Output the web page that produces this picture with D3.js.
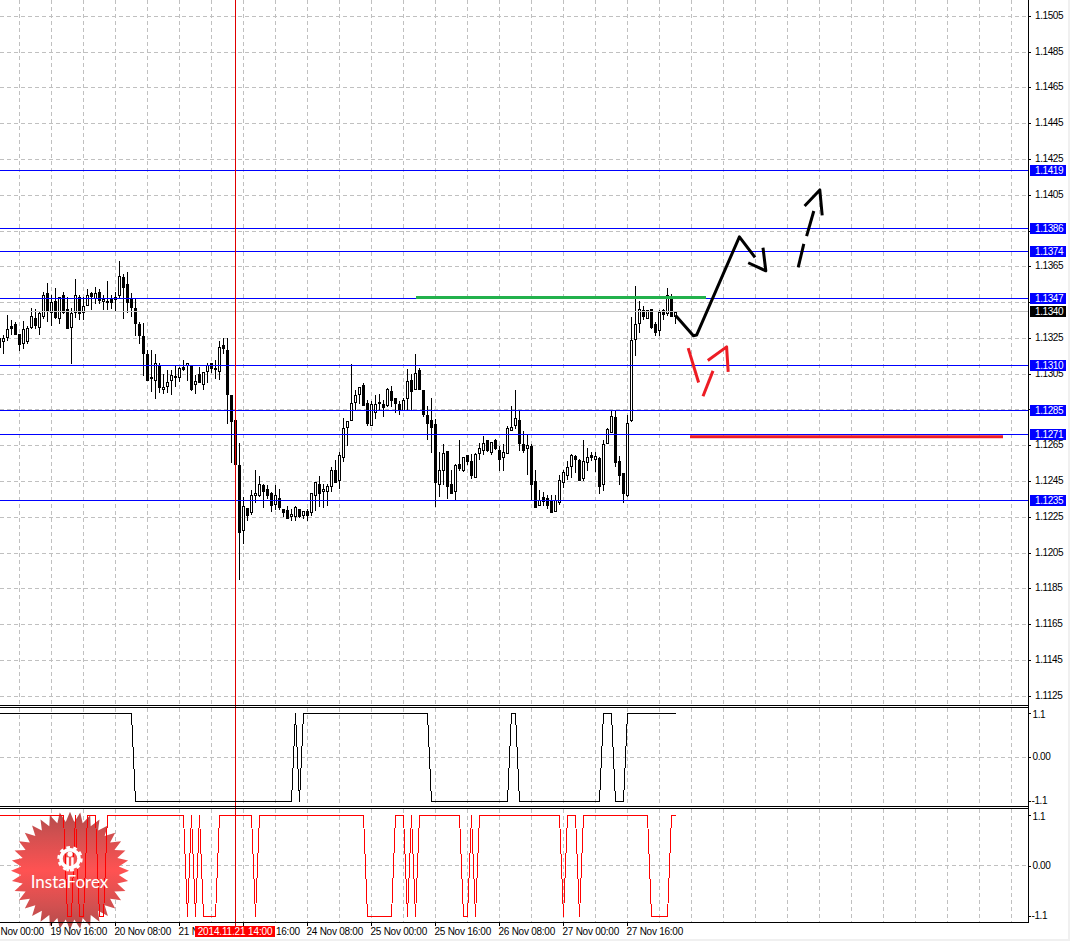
<!DOCTYPE html>
<html><head><meta charset="utf-8">
<script src="https://cdn.jsdelivr.net/npm/d3@7"></script>
<style>
html,body{margin:0;padding:0;background:#fff;overflow:hidden}
svg{display:block}
text{font-family:"Liberation Sans",Arial,sans-serif;font-size:10px;letter-spacing:-.4px;fill:#000}
</style></head><body>
<svg id="c" width="1070" height="941"></svg>
<script>
// H1 candles: first bar index is -1, each row has 10 bars
const firstBar = -1;
const candleOpen = [
1.13247,1.13234,1.13256,1.13316,1.13327,1.13271,1.13223,1.13230,1.13312,1.13364,
1.13312,1.13372,1.13499,1.13394,1.13454,1.13361,1.13487,1.13409,1.13312,1.13394,
1.13476,1.13396,1.13435,1.13499,1.13472,1.13506,1.13454,1.13452,1.13465,1.13476,
1.13487,1.13588,1.13551,1.13469,1.13415,1.13327,1.13260,1.13159,1.13027,1.13017,
1.13096,1.12967,1.12980,1.13017,1.13034,1.13029,1.13088,1.13096,1.13096,1.12995,
1.13047,1.12991,1.13066,1.13107,1.13079,1.13066,1.13209,1.13185,1.12929,1.12793,
1.12538,1.12174,1.12299,1.12277,1.12372,1.12370,1.12426,1.12407,1.12385,1.12323,
1.12357,1.12295,1.12286,1.12254,1.12254,1.12295,1.12263,1.12280,1.12277,1.12374,
1.12435,1.12394,1.12394,1.12422,1.12510,1.12457,1.12584,1.12752,1.12793,1.12892,
1.12937,1.12985,1.12888,1.12763,1.12838,1.12886,1.12879,1.12877,1.12955,1.12916,
1.12879,1.12845,1.12916,1.13017,1.12965,1.13069,1.12957,1.12817,1.12789,1.12767,
1.12435,1.12513,1.12616,1.12435,1.12394,1.12547,1.12510,1.12597,1.12560,1.12472,
1.12607,1.12623,1.12678,1.12610,1.12678,1.12625,1.12584,1.12607,1.12735,1.12763,
1.12793,1.12655,1.12635,1.12648,1.12448,1.12316,1.12359,1.12357,1.12342,1.12282,
1.12334,1.12444,1.12485,1.12534,1.12588,1.12566,1.12465,1.12556,1.12597,1.12571,
1.12577,1.12435,1.12663,1.12724,1.12806,1.12564,1.12497,1.12370,1.12789,1.13246,
1.13334,1.13408,1.13360,1.13414,1.13326,1.13293,1.13408,1.13390,1.13470,1.13371];
const candleClose = [
1.13200,1.13249,1.13297,1.13305,1.13271,1.13215,1.13297,1.13308,1.13375,1.13323,
1.13387,1.13487,1.13405,1.13450,1.13368,1.13476,1.13394,1.13308,1.13387,1.13487,
1.13387,1.13428,1.13487,1.13484,1.13499,1.13461,1.13469,1.13456,1.13450,1.13465,
1.13596,1.13536,1.13452,1.13424,1.13334,1.13267,1.13167,1.13017,1.13029,1.13107,
1.12976,1.12978,1.13006,1.13045,1.13036,1.13084,1.13077,1.13107,1.12965,1.13010,
1.13004,1.13058,1.13098,1.13081,1.13081,1.13200,1.13191,1.12939,1.12786,1.12547,
1.12165,1.12308,1.12263,1.12370,1.12385,1.12435,1.12394,1.12370,1.12314,1.12370,
1.12305,1.12277,1.12243,1.12267,1.12305,1.12254,1.12282,1.12263,1.12385,1.12446,
1.12383,1.12407,1.12420,1.12513,1.12444,1.12597,1.12748,1.12787,1.12888,1.12929,
1.12978,1.12877,1.12774,1.12879,1.12879,1.12890,1.12864,1.12967,1.12903,1.12888,
1.12851,1.12905,1.13008,1.12955,1.13056,1.12965,1.12825,1.12774,1.12752,1.12444,
1.12510,1.12609,1.12422,1.12383,1.12538,1.12523,1.12586,1.12562,1.12482,1.12599,
1.12636,1.12664,1.12622,1.12666,1.12637,1.12573,1.12614,1.12748,1.12752,1.12804,
1.12663,1.12622,1.12653,1.12431,1.12305,1.12346,1.12338,1.12319,1.12275,1.12342,
1.12457,1.12498,1.12526,1.12597,1.12573,1.12454,1.12564,1.12586,1.12582,1.12588,
1.12422,1.12655,1.12739,1.12816,1.12556,1.12484,1.12383,1.12776,1.13237,1.13326,
1.13414,1.13371,1.13408,1.13311,1.13282,1.13397,1.13382,1.13487,1.13373,1.13397];
const candleHigh = [
1.13252,1.13265,1.13377,1.13349,1.13340,1.13271,1.13346,1.13316,1.13415,1.13409,
1.13402,1.13508,1.13555,1.13489,1.13527,1.13476,1.13508,1.13476,1.13415,1.13577,
1.13489,1.13476,1.13521,1.13508,1.13532,1.13521,1.13489,1.13566,1.13489,1.13508,
1.13678,1.13607,1.13620,1.13499,1.13471,1.13340,1.13334,1.13182,1.13185,1.13159,
1.13111,1.13047,1.13073,1.13070,1.13098,1.13088,1.13126,1.13107,1.13098,1.13042,
1.13088,1.13058,1.13107,1.13111,1.13126,1.13234,1.13247,1.13247,1.12929,1.12793,
1.12663,1.12360,1.12299,1.12398,1.12510,1.12476,1.12435,1.12426,1.12388,1.12426,
1.12407,1.12295,1.12308,1.12295,1.12308,1.12295,1.12282,1.12295,1.12385,1.12446,
1.12476,1.12435,1.12435,1.12528,1.12566,1.12612,1.12804,1.12787,1.13106,1.12957,
1.12978,1.12998,1.12905,1.12896,1.12929,1.12939,1.12905,1.12970,1.12980,1.12916,
1.12896,1.12916,1.13078,1.13051,1.13159,1.13084,1.12957,1.12870,1.12916,1.12795,
1.12610,1.12659,1.12616,1.12513,1.12547,1.12678,1.12586,1.12597,1.12603,1.12609,
1.12663,1.12700,1.12678,1.12666,1.12687,1.12648,1.12659,1.12756,1.12868,1.12957,
1.12842,1.12730,1.12705,1.12655,1.12513,1.12398,1.12388,1.12370,1.12370,1.12370,
1.12484,1.12513,1.12562,1.12603,1.12594,1.12575,1.12678,1.12637,1.12612,1.12612,
1.12586,1.12678,1.12748,1.12845,1.12843,1.12588,1.12497,1.12817,1.13367,1.13539,
1.13457,1.13427,1.13408,1.13414,1.13339,1.13405,1.13414,1.13530,1.13498,1.13397];
const candleLow = [
1.13172,1.13167,1.13241,1.13271,1.13271,1.13185,1.13191,1.13219,1.13303,1.13303,
1.13271,1.13359,1.13346,1.13321,1.13359,1.13331,1.13387,1.13308,1.13107,1.13368,
1.13357,1.13355,1.13435,1.13409,1.13446,1.13443,1.13409,1.13409,1.13415,1.13405,
1.13480,1.13362,1.13396,1.13372,1.13265,1.13223,1.13043,1.13014,1.12954,1.12913,
1.12946,1.12943,1.12948,1.12935,1.12980,1.13010,1.13073,1.13014,1.12961,1.12943,
1.13004,1.12967,1.13004,1.13060,1.13027,1.13023,1.13163,1.12774,1.12556,1.12547,
1.11904,1.12103,1.12230,1.12267,1.12332,1.12364,1.12305,1.12353,1.12280,1.12295,
1.12295,1.12252,1.12243,1.12230,1.12230,1.12249,1.12243,1.12230,1.12263,1.12290,
1.12308,1.12305,1.12319,1.12394,1.12444,1.12413,1.12562,1.12650,1.12793,1.12845,
1.12886,1.12877,1.12763,1.12763,1.12801,1.12855,1.12812,1.12868,1.12868,1.12836,
1.12827,1.12845,1.12851,1.12855,1.12965,1.12965,1.12812,1.12685,1.12612,1.12310,
1.12368,1.12435,1.12355,1.12383,1.12351,1.12510,1.12504,1.12543,1.12467,1.12472,
1.12571,1.12603,1.12616,1.12603,1.12631,1.12510,1.12510,1.12607,1.12733,1.12745,
1.12622,1.12610,1.12491,1.12351,1.12305,1.12316,1.12314,1.12301,1.12275,1.12282,
1.12323,1.12416,1.12463,1.12472,1.12500,1.12454,1.12454,1.12510,1.12566,1.12506,
1.12383,1.12398,1.12663,1.12724,1.12532,1.12431,1.12332,1.12364,1.12786,1.13153,
1.13282,1.13356,1.13360,1.13306,1.13265,1.13265,1.13354,1.13377,1.13373,1.13334];

const hi = 1.1, lo = -1.1;
const osc1 = [
hi,hi,hi,hi,hi,hi,hi,hi,hi,hi, hi,hi,hi,hi,hi,hi,hi,hi,hi,hi,
hi,hi,hi,hi,hi,hi,hi,hi,hi,hi, hi,hi,hi,hi,lo,lo,lo,lo,lo,lo,
lo,lo,lo,lo,lo,lo,lo,lo,lo,lo, lo,lo,lo,lo,lo,lo,lo,lo,lo,lo,
lo,lo,lo,lo,lo,lo,lo,lo,lo,lo, lo,lo,lo,lo,hi,lo,hi,hi,hi,hi,
hi,hi,hi,hi,hi,hi,hi,hi,hi,hi, hi,hi,hi,hi,hi,hi,hi,hi,hi,hi,
hi,hi,hi,hi,hi,hi,hi,hi,lo,lo, lo,lo,lo,lo,lo,lo,lo,lo,lo,lo,
lo,lo,lo,lo,lo,lo,lo,lo,hi,hi, lo,lo,lo,lo,lo,lo,lo,lo,lo,lo,
lo,lo,lo,lo,lo,lo,lo,lo,lo,lo, lo,hi,hi,hi,lo,lo,lo,hi,hi,hi,
hi,hi,hi,hi,hi,hi,hi,hi,hi,hi];
const osc2 = [
hi,hi,hi,hi,hi,hi,hi,hi,hi,hi, hi,hi,hi,hi,hi,hi,hi,lo,lo,hi,
lo,lo,hi,hi,hi,lo,lo,hi,hi,hi, hi,hi,hi,hi,hi,hi,hi,hi,hi,hi,
hi,hi,hi,hi,hi,hi,hi,lo,hi,lo, hi,lo,lo,lo,lo,hi,hi,hi,hi,hi,
hi,hi,hi,hi,lo,hi,hi,hi,hi,hi, hi,hi,hi,hi,hi,hi,hi,hi,hi,hi,
hi,hi,hi,hi,hi,hi,hi,hi,hi,hi, hi,hi,lo,lo,lo,lo,lo,lo,lo,hi,
hi,hi,lo,hi,lo,hi,hi,hi,hi,hi, hi,hi,hi,hi,hi,hi,lo,lo,hi,lo,
hi,hi,hi,hi,hi,hi,hi,hi,hi,hi, hi,hi,hi,hi,hi,hi,hi,hi,hi,hi,
hi,lo,hi,hi,hi,lo,hi,hi,hi,hi, hi,hi,hi,hi,hi,hi,hi,hi,hi,hi,
hi,hi,hi,lo,lo,lo,lo,lo,hi,hi];

const priceTicks = [1.1505,1.1485,1.1465,1.1445,1.1425,1.1405,1.1385,1.1365,1.1345,1.1325,1.1305,1.1285,1.1265,1.1245,1.1225,1.1205,1.1185,1.1165,1.1145,1.1125];
const coveredTickLabels = [1.1385,1.1345,1.1285];
const oscTicks = [1.1,0,-1.1];
const timeTickBars = [-4,12,28,44,60,76,92,108,124,140,156];
const timeTickLabels = ["Nov 00:00","19 Nov 16:00","20 Nov 08:00","21 N","16:00","24 Nov 08:00","25 Nov 00:00","25 Nov 16:00","26 Nov 08:00","27 Nov 00:00","27 Nov 16:00"];
const timeLabelOffsets = [13,-1,-1,-1,32.5,-1,-1,-1,-1,-1,-1];
const gridBars = d3.range(-4,256,8).map(d=>d+8);
const levelPrices = [1.14187,1.13863,1.13737,1.13473,1.13099,1.12847,1.12713,1.12346];
const bidPrice = 1.1340;
const crossBar = 58, crossLabel = "2014.11.21 14:00";
const greenBars = [103.25,175.75], greenPrices = [1.13476,1.13476];
const redBars = [171.75,250], redPrices = [1.12697,1.12697];
const blackStrokes = [
 {bars:[168.1,172.6,173.4,184.1,188],prices:[1.13377,1.13262,1.13266,1.13815,1.13700]},
 {bars:[186.3,190.7,190],prices:[1.13670,1.13625,1.13754]},
 {bars:[198.8,200.2],prices:[1.13644,1.13775]},
 {bars:[200.9,202.7],prices:[1.13819,1.13959]},
 {bars:[200.4,204.2,204.8],prices:[1.13987,1.14077,1.13935]}];
const redStrokes = [
 {bars:[171.3,173.9],prices:[1.13193,1.13001]},
 {bars:[177.5,175],prices:[1.13066,1.12924]},
 {bars:[176.2,180.9,181.3],prices:[1.13124,1.13200,1.13060]}];

const axisX = 1028, W = 1070, H = 941, bottomY = 922;
const blue = "#0000ff", gridC = "#c0c0c0";
const svg = d3.select("#c");
const x = d3.scaleLinear().domain([0,100]).range([3,403]);
const y = d3.scaleLinear().domain([1.1505,1.1125]).rangeRound([15.8,695.8]);
const yP1 = d3.scaleLinear().domain([1.1,-1.1]).range([713,801]);
const yP2 = d3.scaleLinear().domain([1.1,-1.1]).range([815,916]);

svg.append("rect").attr("width",W).attr("height",H).attr("fill","#fff");
svg.append("rect").attr("x",0).attr("y",939).attr("width",W).attr("height",2).attr("fill","#f0f0f0");
svg.append("rect").attr("x",1068).attr("y",0).attr("width",2).attr("height",H).attr("fill","#f0f0f0");

const defs = svg.append("defs");
const lg = defs.append("linearGradient").attr("id","star").attr("x1",0).attr("x2",0).attr("y1",0).attr("y2",1);
[[0,"#b24b4b"],[0.2,"#d25050"],[0.5,"#ff5252"],[0.8,"#d25050"],[1,"#b24b4b"]].forEach(s=>lg.append("stop").attr("offset",s[0]).attr("stop-color",s[1]));
defs.append("clipPath").attr("id","plot").append("rect").attr("width",axisX).attr("height",bottomY);

// grid
const grid = svg.append("g").attr("stroke",gridC).attr("stroke-dasharray","4,3").attr("shape-rendering","crispEdges");
const panels = [[0,705],[708,806],[809,922]];
panels.forEach(p=>{
  grid.selectAll(null).data(gridBars.filter(b=>x(b)<axisX)).enter().append("line").attr("x1",d=>x(d)+.5).attr("x2",d=>x(d)+.5).attr("y1",p[0]).attr("y2",p[1]);
});
grid.selectAll(null).data(priceTicks).enter().append("line").attr("x1",0).attr("x2",axisX).attr("y1",d=>y(d)+.5).attr("y2",d=>y(d)+.5);
grid.append("line").attr("x1",0).attr("x2",axisX).attr("y1",Math.floor(yP1(0))+.5).attr("y2",Math.floor(yP1(0))+.5);
grid.append("line").attr("x1",0).attr("x2",axisX).attr("y1",Math.floor(yP2(0))+.5).attr("y2",Math.floor(yP2(0))+.5);

// watermark
const logo = svg.append("g").attr("transform","translate(70,870.7)");
const nPts = 36;
const starPts = d3.range(nPts*2).map(i=>{const a=i*Math.PI/nPts, r=i%2?49:59; return [r*Math.sin(a),-r*Math.cos(a)];});
logo.append("path").attr("d","M"+starPts.join("L")+"Z").attr("fill","url(#star)");

// candles
const rows = candleOpen.map((o,k)=>({i:k+firstBar,o,c:candleClose[k],h:candleHigh[k],l:candleLow[k]}));
const cg = svg.append("g").attr("clip-path","url(#plot)").attr("shape-rendering","crispEdges");
cg.selectAll("line.w").data(rows).enter().append("line").attr("class","w")
  .attr("x1",d=>x(d.i)+.5).attr("x2",d=>x(d.i)+.5).attr("y1",d=>y(d.h)).attr("y2",d=>y(d.l)+1).attr("stroke","#000");
cg.selectAll("rect.b").data(rows).enter().append("rect").attr("class","b")
  .attr("x",d=>x(d.i)-.5).attr("width",2)
  .attr("y",d=>y(Math.max(d.o,d.c))+.5)
  .attr("height",d=>y(Math.min(d.o,d.c))-y(Math.max(d.o,d.c)))
  .attr("fill",d=>d.c>=d.o?"#fff":"#000").attr("stroke","#000");

// levels
const crisp = svg.append("g").attr("shape-rendering","crispEdges");
crisp.append("line").attr("x1",0).attr("x2",axisX).attr("y1",y(bidPrice)+.5).attr("y2",y(bidPrice)+.5).attr("stroke",gridC);
crisp.selectAll("line.l").data(levelPrices).enter().append("line").attr("class","l")
  .attr("x1",0).attr("x2",axisX).attr("y1",d=>y(d)+.5).attr("y2",d=>y(d)+.5).attr("stroke",blue);

// oscillators (aliased lines)
const oscLine = yy => d3.line().x((d,k)=>x(k+firstBar)+.5).y(d=>Math.round(yy(d))+.5);
svg.append("path").attr("d",oscLine(yP1)(osc1)).attr("fill","none").attr("stroke","#000").attr("shape-rendering","crispEdges");
svg.append("path").attr("d",oscLine(yP2)(osc2)).attr("fill","none").attr("stroke","#f00").attr("shape-rendering","crispEdges");

// watermark emblem and name sit above the oscillator line
const logoTop = svg.append("g").attr("transform","translate(70,870.7)");
const gear = logoTop.append("g").attr("transform","translate(0,-12)");
gear.append("circle").attr("r",10.6).attr("fill","none").attr("stroke","#fff").attr("stroke-width",4.2).attr("stroke-dasharray","3.4,3.2");
gear.append("circle").attr("r",9).attr("fill","none").attr("stroke","#fff").attr("stroke-width",3.6);
gear.append("circle").attr("cy",-4.6).attr("r",2.6).attr("fill","#fff");
gear.append("rect").attr("x",-3.6).attr("y",-1.4).attr("width",2.5).attr("height",14).attr("fill","#fff");
gear.append("rect").attr("x",1.2).attr("y",-1.4).attr("width",2.5).attr("height",14).attr("fill","#fff");
logoTop.append("text").attr("x",-0.5).attr("y",17.5).attr("text-anchor","middle").style("font-family","Lato,'Open Sans',sans-serif").style("font-size","17px").style("letter-spacing","0").style("fill","#fff").text("InstaForex");

// crosshair
crisp.append("line").attr("x1",x(crossBar)+.5).attr("x2",x(crossBar)+.5).attr("y1",0).attr("y2",bottomY+4).attr("stroke","#e00000");

// drawn objects
const y0 = d3.scaleLinear().domain(y.domain()).range([15.8,695.8]);
const line = d3.line().x(d=>x(d[0])).y(d=>y0(d[1]));
const drawStroke = (s,col,w)=>svg.append("path").attr("d",line(s.bars.map((b,k)=>[b,s.prices[k]]))).attr("fill","none").attr("stroke",col).attr("stroke-width",w).attr("stroke-linejoin","round");
drawStroke({bars:greenBars,prices:greenPrices},"#22b14c",3);
drawStroke({bars:redBars,prices:redPrices},"#ed1c24",3);
blackStrokes.forEach(s=>drawStroke(s,"#000",3));
redStrokes.forEach(s=>drawStroke(s,"#ed1c24",3));

// frame lines
const frame = svg.append("g").attr("stroke","#000").attr("shape-rendering","crispEdges");
[705,707,806,808,922].forEach(v=>frame.append("line").attr("x1",0).attr("x2",axisX+1).attr("y1",v+.5).attr("y2",v+.5));

// axes
const ax = svg.append("g").attr("transform",`translate(${axisX},0)`).call(d3.axisRight(y).tickValues(priceTicks).tickSize(3).tickPadding(4).tickFormat(d=>coveredTickLabels.includes(d)?"":d3.format(".4f")(d)));
ax.select(".domain").attr("d",`M0.5,0V${bottomY+1}`);
ax.selectAll("text").attr("dy",".35em").attr("transform","translate(0,-1)");
const fmtOsc = d=>d===0?"0.00":String(d);
[yP1,yP2].forEach(s=>{
  const a = svg.append("g").attr("transform",`translate(${axisX},0)`).call(d3.axisRight(s).tickValues(oscTicks).tickSize(3).tickPadding(1).tickFormat(fmtOsc));
  a.select(".domain").remove();
  a.selectAll("text").attr("dy",".35em").attr("x",d=>d<0?3.5:4.5).attr("transform",d=>d>0?"translate(0,.5)":d<0?"translate(0,-1.5)":"translate(0,-1)");
});
svg.selectAll("g.tick line").attr("shape-rendering","crispEdges");
svg.selectAll(".domain").attr("shape-rendering","crispEdges");

const tx = svg.append("g").attr("transform",`translate(0,${bottomY})`).call(d3.axisBottom(x).tickValues(timeTickBars).tickSize(4).tickPadding(4).tickFormat((d,k)=>timeTickLabels[k]));
tx.select(".domain").remove();
tx.selectAll("text").attr("text-anchor","start").attr("x",(d,k)=>timeLabelOffsets[k]).attr("dy",".35em").attr("y",9.5).style("letter-spacing","-.25px");
tx.selectAll("line").attr("shape-rendering","crispEdges");

// price tags
const tag = (p,fill)=>{
  const g = svg.append("g");
  g.append("rect").attr("x",axisX+2).attr("y",y(p)-5).attr("width",36).attr("height",11).attr("fill",fill);
  g.append("text").attr("x",axisX+7).attr("y",y(p)).attr("dy",".35em").style("fill","#fff").text(p.toFixed(4));
};
tag(bidPrice,"#000");
levelPrices.forEach(p=>tag(p,blue));

// crosshair time label
svg.append("rect").attr("x",x(crossBar)-40).attr("y",926).attr("width",80).attr("height",11).attr("fill","#f00");
svg.append("text").attr("x",x(crossBar)).attr("y",931.5).attr("dy",".35em").attr("text-anchor","middle").style("fill","#fff").style("font-size","10px").style("letter-spacing","-.15px").text(crossLabel);
</script>
</body></html>
